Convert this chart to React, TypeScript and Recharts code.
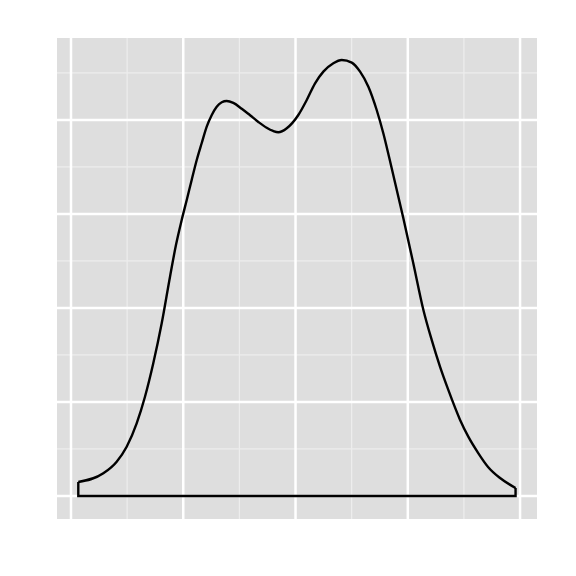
import React from "react";
import { LineChart, Line, XAxis, YAxis, CartesianGrid } from "recharts";

// density estimate
const xs = [
  0.065, 0.288, 0.407, 0.496, 0.585, 0.659, 0.733, 0.808, 0.882, 0.935, 0.986,
  1.031, 1.075, 1.12, 1.164, 1.209, 1.254, 1.298, 1.343, 1.387, 1.446, 1.521,
  1.595, 1.669, 1.743, 1.8, 1.847, 1.922, 2.025, 2.1, 2.174, 2.248, 2.337,
  2.412, 2.501, 2.575, 2.649, 2.723, 2.782, 2.836, 2.96, 3.049, 3.139, 3.213,
  3.287, 3.361, 3.466, 3.539, 3.629, 3.715, 3.822, 3.96,
];
const densities = [
  0.0149, 0.0241, 0.0365, 0.0524, 0.0773, 0.1056, 0.1412, 0.1837, 0.2333,
  0.267, 0.2936, 0.3149, 0.3362, 0.3574, 0.3752, 0.3929, 0.4053, 0.4141, 0.4188,
  0.4202, 0.4181, 0.4119, 0.405, 0.3979, 0.3917, 0.3883, 0.3869, 0.3912,
  0.4053, 0.4213, 0.439, 0.4514, 0.4603, 0.4638, 0.461, 0.4514, 0.4354, 0.4106,
  0.3859, 0.3593, 0.2957, 0.2476, 0.1979, 0.166, 0.1376, 0.1128, 0.0809,
  0.0631, 0.0454, 0.0309, 0.0191, 0.0085,
];

const xMajor = [0, 1, 2, 3, 4];
const xMinor = [0.5, 1.5, 2.5, 3.5];
const yMajor = [0, 0.1, 0.2, 0.3, 0.4];
const yMinor = [0.05, 0.15, 0.25, 0.35, 0.45];

const curve = xs.map((x, i) => ({ x, y: densities[i] }));
const last = curve.length - 1;
// closing edges of the density polygon: down, along the baseline, and up
const outline = [
  { x: xs[0], y: densities[0] },
  { x: xs[0], y: 0 },
  { x: xs[last], y: 0 },
  { x: xs[last], y: densities[last] },
];

export default function App() {
  return (
    <LineChart
      width={560}
      height={560}
      margin={{ top: 30, right: 31, bottom: 49, left: 49 }}
    >
      <XAxis
        dataKey="x"
        type="number"
        domain={[-0.1247, 4.151]}
        allowDataOverflow
        hide
      />
      <YAxis type="number" domain={[-0.0245, 0.4872]} allowDataOverflow hide />
      <CartesianGrid
        fill="#DEDEDE"
        stroke="#EDEDED"
        strokeWidth={1.2}
        horizontalValues={yMinor}
        verticalValues={xMinor}
      />
      <CartesianGrid
        stroke="#FFFFFF"
        strokeWidth={2.5}
        horizontalValues={yMajor}
        verticalValues={xMajor}
      />
      <Line
        data={curve}
        dataKey="y"
        type="monotone"
        stroke="#000"
        strokeWidth={2.4}
        dot={false}
        isAnimationActive={false}
      />
      <Line
        data={outline}
        dataKey="y"
        type="linear"
        stroke="#000"
        strokeWidth={2.4}
        dot={false}
        isAnimationActive={false}
      />
    </LineChart>
  );
}
